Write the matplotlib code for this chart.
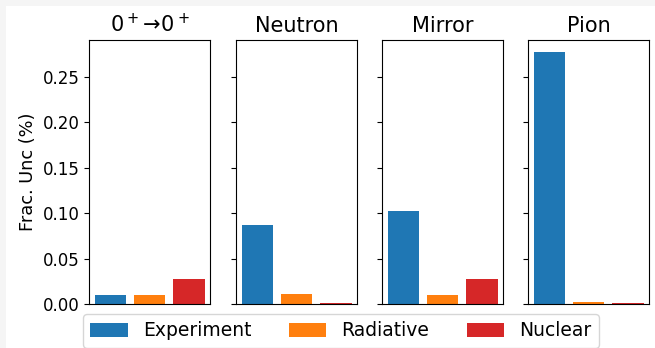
import matplotlib
matplotlib.use("Agg")
import matplotlib.pyplot as plt
from matplotlib.patches import Rectangle

# Fractional uncertainty contributions (%) per extraction channel
channels = ["$0^+\\!\\rightarrow\\!0^+$", "Neutron", "Mirror", "Pion"]
sources = ["Experiment", "Radiative", "Nuclear"]
experiment = [0.0095, 0.087, 0.102, 0.277]
radiative = [0.0095, 0.0105, 0.0095, 0.0025]
nuclear = [0.028, 0.0006, 0.028, 0.0006]
colors = ["#1f77b4", "#ff7f0e", "#d62728"]

W, H = 655, 348
fig = plt.figure(figsize=(W / 100, H / 100), dpi=100, facecolor="#f5f5f5")
fig.patches.append(Rectangle((6 / W, 0), 1, 1 - 6 / H, transform=fig.transFigure,
                             facecolor="white", edgecolor="none", zorder=-1))

lefts = [89, 236, 382, 528]
aw = 121
top, bottom = 40, 304
axes = []
for i, x0 in enumerate(lefts):
    ax = fig.add_axes([x0 / W, 1 - bottom / H, aw / W, (bottom - top) / H],
                      sharey=axes[0] if axes else None)
    axes.append(ax)

for i, ax in enumerate(axes):
    vals = [experiment[i], radiative[i], nuclear[i]]
    bars = ax.bar(range(3), vals, width=0.8, color=colors)
    if i == 0:
        handles = bars
    ax.set_title(channels[i], fontsize=15)
    ax.set_xticks([])
    ax.tick_params(axis="y", labelsize=12)
    if i > 0:
        ax.tick_params(axis="y", labelleft=False)

axes[0].set_ylim(0, 0.2907)
axes[0].set_yticks([0, 0.05, 0.10, 0.15, 0.20, 0.25])
axes[0].set_ylabel("Frac. Unc (%)", fontsize=12.8)

fig.legend(handles, sources, loc="upper center", ncol=3, fontsize=13.5,
           bbox_to_anchor=(341 / W, 1 - 314 / H), borderaxespad=0)

fig.savefig("out.png", dpi=100, facecolor=fig.get_facecolor())
